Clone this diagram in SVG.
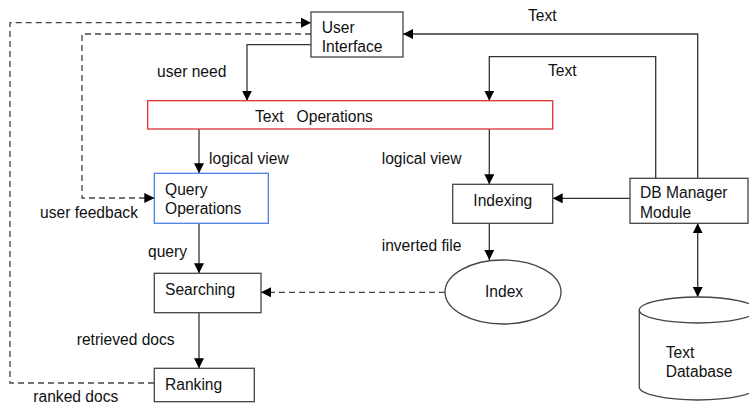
<svg xmlns="http://www.w3.org/2000/svg" width="749" height="403" viewBox="0 0 749 403">
<defs>
<marker id="ah" viewBox="0 0 10 10" refX="10" refY="5" markerWidth="10" markerHeight="10" markerUnits="userSpaceOnUse" orient="auto">
<path d="M0,0 L10,5 L0,10 Z" fill="#000"/>
</marker>
<marker id="ahs" viewBox="0 0 10 10" refX="10" refY="5" markerWidth="10" markerHeight="10" markerUnits="userSpaceOnUse" orient="auto-start-reverse">
<path d="M0,0 L10,5 L0,10 Z" fill="#000"/>
</marker>
</defs>
<style>
text{font-family:"Liberation Sans",Arial,sans-serif;font-size:15.6px;fill:#111}
.box{fill:#fff;stroke:#444;stroke-width:1.3}
.ln{fill:none;stroke:#333;stroke-width:1.3}
.dash{fill:none;stroke:#444;stroke-width:1.3;stroke-dasharray:6 4}
</style>
<rect width="749" height="403" fill="#fff"/>
<g id="connectors">
<path class="dash" d="M154,383 H10 V22.7 H311" marker-end="url(#ah)"/>
<path class="dash" d="M311,34 H82 V198 H154.3" marker-end="url(#ah)"/>
<path class="ln" d="M311,44.7 H247 V100.7" marker-end="url(#ah)"/>
<path class="ln" d="M697.7,178.3 V34 H403" marker-end="url(#ah)"/>
<path class="ln" d="M655.7,178.3 V56.7 H489.3 V100.7" marker-end="url(#ah)"/>
<path class="ln" d="M199,129 V173.3" marker-end="url(#ah)"/>
<path class="ln" d="M489.3,129 V184.3" marker-end="url(#ah)"/>
<path class="ln" d="M630,198.3 H552.7" marker-end="url(#ah)"/>
<path class="ln" d="M489.3,223.3 V260" marker-end="url(#ah)"/>
<path class="dash" d="M445,292.3 H261" marker-end="url(#ah)"/>
<path class="ln" d="M199,223.3 V273.3" marker-end="url(#ah)"/>
<path class="ln" d="M199,312.7 V368.3" marker-end="url(#ah)"/>
<path class="ln" d="M697.7,223.3 V297" marker-start="url(#ahs)" marker-end="url(#ah)"/>
<text x="528" y="21">Text</text>
<text x="548" y="76">Text</text>
<text x="157" y="77">user need</text>
<text x="209" y="164">logical view</text>
<text x="381.7" y="164">logical view</text>
<text x="40" y="218">user feedback</text>
<text x="148" y="257">query</text>
<text x="381.7" y="251">inverted file</text>
<text x="76.7" y="345">retrieved docs</text>
<text x="33.3" y="401.5">ranked docs</text>
</g>
<g id="user-interface">
<rect class="box" x="311" y="12" width="92" height="45"/>
<text x="321.7" y="33">User</text>
<text x="321.7" y="52">Interface</text>
</g>
<g id="text-operations">
<rect x="147.7" y="100.7" width="405" height="28.3" fill="#fff" stroke="#e03030" stroke-width="1.3"/>
<text x="255" y="122" style="white-space:pre">Text   Operations</text>
</g>
<g id="query-operations">
<rect x="154.3" y="173.3" width="114" height="50" fill="#fff" stroke="#4a80e8" stroke-width="1.3"/>
<text x="165" y="195">Query</text>
<text x="165" y="214">Operations</text>
</g>
<g id="indexing">
<rect class="box" x="452.7" y="184.3" width="100" height="39"/>
<text x="473.3" y="206">Indexing</text>
</g>
<g id="db-manager">
<rect class="box" x="630" y="178.3" width="118" height="45"/>
<text x="640" y="198">DB Manager</text>
<text x="640" y="218">Module</text>
</g>
<g id="index">
<ellipse class="box" cx="503" cy="292" rx="58" ry="32"/>
<text x="485" y="297">Index</text>
</g>
<g id="searching">
<rect class="box" x="154.3" y="273.3" width="106.7" height="39.4"/>
<text x="165" y="295">Searching</text>
</g>
<g id="ranking">
<rect class="box" x="154.3" y="368.3" width="100" height="33.4"/>
<text x="165" y="390">Ranking</text>
</g>
<g id="text-database">
<path class="box" d="M639.3,310 V387 A58.5,13 0 0 0 756.3,387 V310 A58.5,13 0 0 0 639.3,310 Z"/>
<path class="box" fill="none" d="M639.3,310 A58.5,13 0 0 0 756.3,310"/>
<text x="665.7" y="358">Text</text>
<text x="665.7" y="377">Database</text>
</g>
</svg>
